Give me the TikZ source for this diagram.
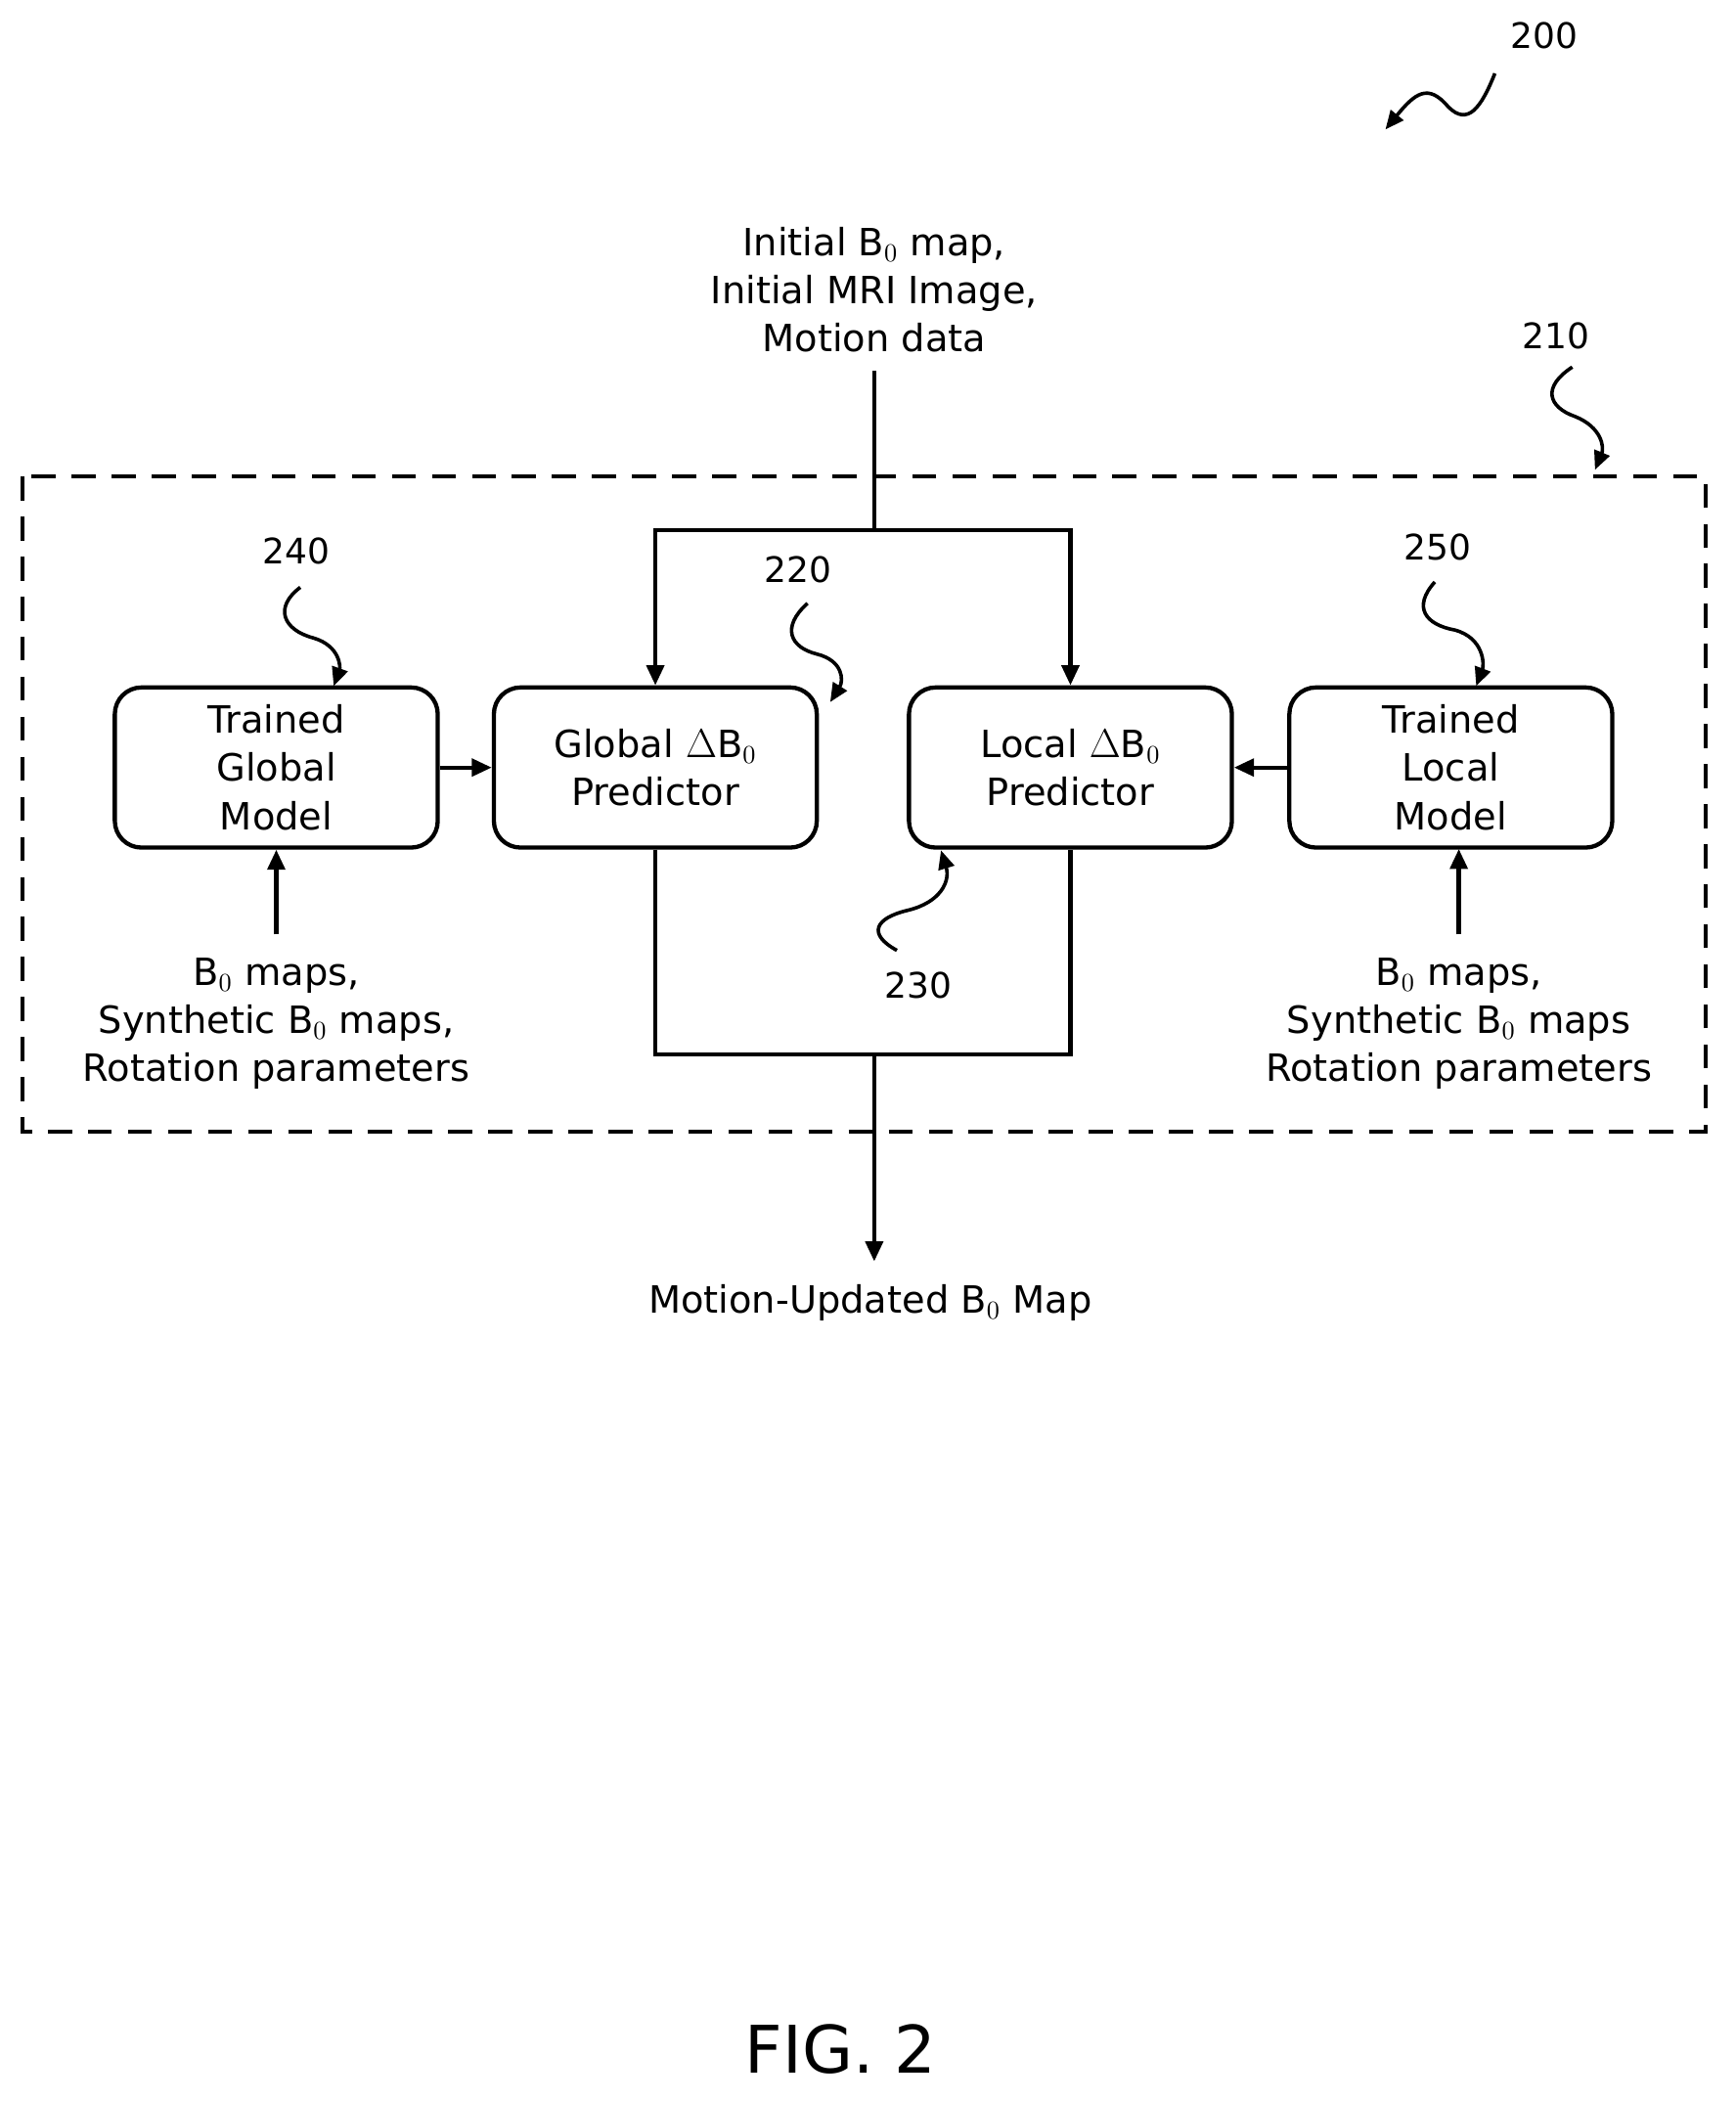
\documentclass[tikz,border=0pt]{standalone}
\usepackage{fontspec}
\setmainfont{DejaVu Sans}
\usetikzlibrary{arrows.meta}
\begin{document}
\begin{tikzpicture}[x=0.02cm,y=-0.02cm,
  every node/.style={font=\fontsize{16}{20.5}\selectfont,align=center,inner sep=0pt},
  box/.style={draw,line width=1.8pt,rounded corners=0.4cm,minimum width=4.84cm,minimum height=2.4cm},
  ln/.style={line width=1.8pt},
  arr/.style={ln,-{Triangle[length=0.3cm,width=0.26cm]}},
  sq/.style={line width=1.5pt,-{Triangle[length=0.28cm,width=0.24cm]}},
  num/.style={font=\fontsize{15}{18}\selectfont}]
\useasboundingbox (0,0) rectangle (1300,1574);
\node[num] (n200) at (1157,27) {200};
\node (top) at (655,217) {Initial B$_0$ map,\\Initial MRI Image,\\Motion data};
\draw[ln,dashed,dash pattern=on 0.36cm off 0.24cm] (17,357) rectangle (1278,848);
\node[box] (tgm) at (207,575) {Trained\\Global\\Model};
\node[box] (gp) at (491,575) {Global $\Delta$B$_0$\\Predictor};
\node[box] (lp) at (802,575) {Local $\Delta$B$_0$\\Predictor};
\node[box] (tlm) at (1087,575) {Trained\\Local\\Model};
\node (bl) at (207,767) {B$_0$ maps,\\Synthetic B$_0$ maps,\\Rotation parameters};
\node (br) at (1093,767) {B$_0$ maps,\\Synthetic B$_0$ maps\\Rotation parameters};
\node (out) at (652,976) {Motion-Updated B$_0$ Map};
\node[font=\fontsize{28}{32}\selectfont] (fig) at (630,1535) {FIG. 2};
\node[num] (n210) at (1166,252) {210};
\node[num] (n240) at (222,413) {240};
\node[num] (n220) at (598,427) {220};
\node[num] (n230) at (688,738) {230};
\node[num] (n250) at (1077,410) {250};
\coordinate (split) at (655,397);
\coordinate (join) at (655,790);
\draw[ln] (655,278) -- (split);
\draw[arr] (split) -| (gp.north);
\draw[arr] (split) -| (lp.north);
\draw[arr] (tgm.east) -- (gp.west);
\draw[arr] (tlm.west) -- (lp.east);
\draw[arr] (207,700) -- (tgm.south);
\draw[arr] (1093,700) -- (1093,636);
\draw[ln] (gp.south) |- (join) -| (lp.south);
\draw[arr] (join) -- (655,945);
% squiggles
\draw[sq] (1120,55) .. controls (1110,80) and (1100,95) .. (1085,80) .. controls (1070,62) and (1060,70) .. (1038,97);
\draw[sq] (1178,275) .. controls (1155,290) and (1160,305) .. (1180,312) .. controls (1200,320) and (1202,335) .. (1195,352);
\draw[sq] (225,440) .. controls (205,455) and (212,472) .. (235,478) .. controls (255,484) and (255,500) .. (250,514);
\draw[sq] (605,452) .. controls (585,470) and (592,485) .. (612,490) .. controls (632,495) and (632,510) .. (622,526);
\draw[sq] (1075,436) .. controls (1058,455) and (1068,468) .. (1090,472) .. controls (1112,478) and (1112,498) .. (1106,514);
\draw[sq] (672,712) .. controls (650,700) and (655,688) .. (680,682) .. controls (705,676) and (712,660) .. (705,637);
\end{tikzpicture}
\end{document}
